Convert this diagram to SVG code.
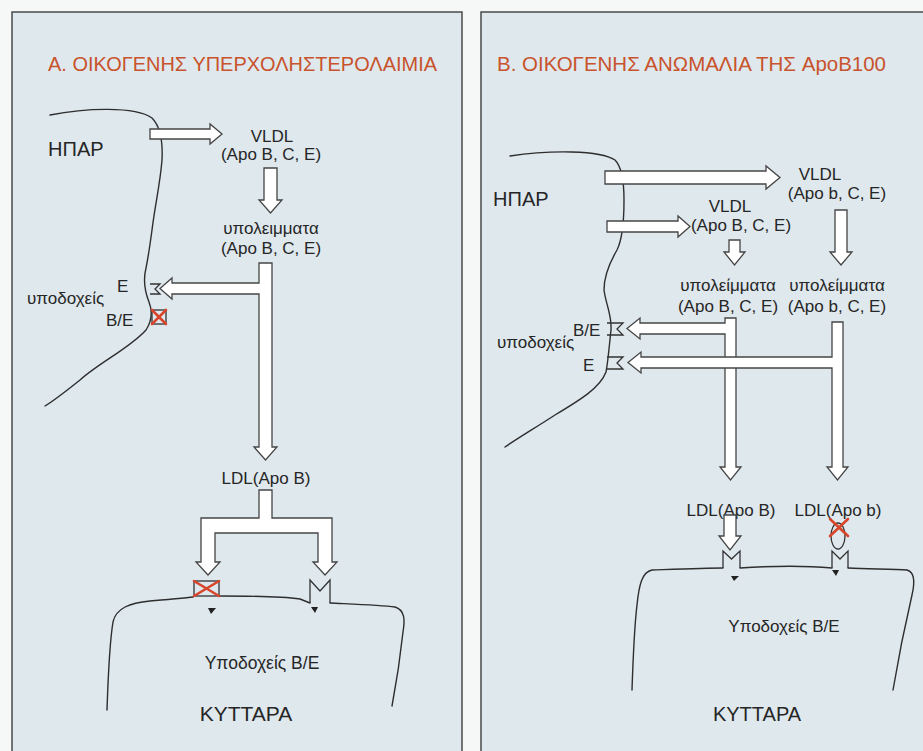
<svg xmlns="http://www.w3.org/2000/svg" width="923" height="751" viewBox="0 0 923 751">
<style>
.panel{fill:#dfe8ed;stroke:#4a4a4a;stroke-width:1.5}
.t{font-family:"Liberation Sans",Arial,sans-serif;fill:#262626;font-size:17px}
.big{font-family:"Liberation Sans",Arial,sans-serif;fill:#262626;font-size:20px}
.title{font-family:"Liberation Sans",Arial,sans-serif;fill:#c8532c;font-size:21px}
.arr{fill:#ffffff;stroke:#454545;stroke-width:1.3;stroke-linejoin:miter}
.line{fill:none;stroke:#2e2e2e;stroke-width:1.4;stroke-linecap:round;stroke-linejoin:round}
.rec{fill:none;stroke:#333;stroke-width:1.3}
.x{stroke:#d8452a;stroke-width:2.6;stroke-linecap:round}
.tri{fill:#222}
</style>
<rect width="923" height="751" fill="#f6f8f8"/>
<rect class="panel" x="12" y="12" width="450" height="760"/>
<rect class="panel" x="481" y="12" width="460" height="760"/>

<!-- ===== Panel A ===== -->
<g id="panelA">
<text class="title" x="48" y="71" textLength="389" lengthAdjust="spacingAndGlyphs">Α. ΟΙΚΟΓΕΝΗΣ ΥΠΕΡΧΟΛΗΣΤΕΡΟΛΑΙΜΙΑ</text>
<g id="A-liver">
<path class="line" d="M50,115 C85,108 135,106 152,118 C160,126 163,140 162,160 C160,185 155,205 152,230 C150,245 148,258 146,268 C143,280 145,292 149,302 C153,312 151,322 146,330 C130,348 100,362 80,380 C65,392 55,400 45,406"/>
<text class="big" x="48" y="156">ΗΠΑΡ</text>
</g>
<g id="A-receptors-liver">
<path class="rec" d="M150,284 H160 L155,289 L160,294 H150"/>
<rect class="rec" x="152" y="310" width="14" height="14"/>
<line class="x" x1="152" y1="310" x2="166" y2="324"/>
<line class="x" x1="166" y1="310" x2="152" y2="324"/>
<text class="t" x="117" y="292">E</text>
<text class="t" x="27" y="304">υποδοχείς</text>
<text class="t" x="106" y="326">B/E</text>
</g>
<g id="A-vldl">
<text class="t" x="272" y="142" text-anchor="middle">VLDL</text>
<text class="t" x="271" y="160" text-anchor="middle">(Apo B, C, E)</text>
</g>
<g id="A-remnants">
<text class="t" x="271" y="234" text-anchor="middle">υπολειμματα</text>
<text class="t" x="271" y="254" text-anchor="middle">(Apo B, C, E)</text>
</g>
<g id="A-ldl">
<text class="t" x="266" y="484" text-anchor="middle">LDL(Apo B)</text>
</g>
<g id="A-cell">
<path class="line" d="M107,710 C108,680 110,640 113,622 C116,608 130,603 150,601 C170,599 185,598 193,597"/>
<path class="line" d="M220,596 C250,596 285,597 300,599 L310,603"/>
<path class="line" d="M330,603 C350,604 380,605 395,607 C405,610 405,620 403,632 C400,660 396,685 392,706"/>
<path class="rec" d="M310,603 V580 L320,591 L330,580 V603"/>
<rect class="rec" x="194" y="581" width="25" height="15"/>
<line class="x" x1="194" y1="581" x2="219" y2="596"/>
<line class="x" x1="219" y1="581" x2="194" y2="596"/>
<path class="tri" d="M208,608 L216,608 L211,614 Z"/>
<path class="tri" d="M311,607 L318,607 L315,613 Z"/>
<text class="t" x="262" y="669" text-anchor="middle" style="font-size:17.5px">Υποδοχείς B/E</text>
<text class="big" x="246" y="721" text-anchor="middle" style="font-size:21px">ΚΥΤΤΑΡΑ</text>
</g>
</g>

<!-- ===== Panel B ===== -->
<g id="panelB">
<text class="title" x="497" y="71" textLength="389" lengthAdjust="spacingAndGlyphs">Β. ΟΙΚΟΓΕΝΗΣ ΑΝΩΜΑΛΙΑ ΤΗΣ ApoB100</text>
<g id="B-liver">
<path class="line" d="M510,156 C550,150 600,150 615,160 C622,167 624,180 624,200 C624,225 622,240 617,250 C610,262 604,275 604,290 C606,305 612,315 611,330 C609,348 608,362 606,372 C600,388 580,400 555,415 C535,428 518,438 505,447"/>
<text class="big" x="493" y="206">ΗΠΑΡ</text>
</g>
<g id="B-receptors-liver">
<path class="rec" d="M607,323 H623 L617,329 L623,335 H607"/>
<path class="rec" d="M607,357 H623 L617,363 L623,369 H607"/>
<text class="t" x="573" y="336">B/E</text>
<text class="t" x="497" y="348">υποδοχείς</text>
<text class="t" x="583" y="371">E</text>
</g>
<g id="B-vldl-b">
<text class="t" x="820" y="180" text-anchor="middle">VLDL</text>
<text class="t" x="837" y="199" text-anchor="middle">(Apo b, C, E)</text>
</g>
<g id="B-vldl-B">
<text class="t" x="730" y="212" text-anchor="middle">VLDL</text>
<text class="t" x="741" y="231" text-anchor="middle">(Apo B, C, E)</text>
</g>
<g id="B-remnants-B">
<text class="t" x="728" y="291" text-anchor="middle">υπολείμματα</text>
<text class="t" x="728" y="312" text-anchor="middle">(Apo B, C, E)</text>
</g>
<g id="B-remnants-b">
<text class="t" x="837" y="291" text-anchor="middle">υπολείμματα</text>
<text class="t" x="837" y="312" text-anchor="middle">(Apo b, C, E)</text>
</g>
<g id="B-ldl">
<text class="t" x="731" y="516" text-anchor="middle">LDL(Apo B)</text>
<text class="t" x="838" y="516" text-anchor="middle">LDL(Apo b)</text>
</g>
<g id="B-cell">
<path class="line" d="M632,690 C633,660 634,630 637,605 C639,585 642,572 652,570 C680,569 705,568 723,568"/>
<path class="line" d="M740,568 C770,566 800,565 832,568"/>
<path class="line" d="M848,568 C870,569 895,569 907,570 C915,572 915,582 912,595 C905,625 898,660 893,690"/>
<path class="rec" d="M723,568 V551 L731.5,559 L740,551 V568"/>
<path class="rec" d="M832,568 V551 L840,559 L848,551 V568"/>
<ellipse class="rec" cx="838" cy="536" rx="7" ry="13"/>
<line class="x" x1="830" y1="519" x2="848" y2="536"/>
<line class="x" x1="848" y1="519" x2="830" y2="536"/>
<path class="tri" d="M731,576 L739,576 L734,581 Z"/>
<path class="tri" d="M832,570 L839,570 L836,576 Z"/>
<text class="t" x="784" y="632" text-anchor="middle">Υποδοχείς B/E</text>
<text class="big" x="757" y="721" text-anchor="middle">ΚΥΤΤΑΡΑ</text>
</g>
</g>

<!-- ===== Connectors ===== -->
<g id="connectors">
<!-- Panel A -->
<path class="arr" d="M150,129 H210 V124 L222,134 L210,144 V139 H150 Z"/>
<path class="arr" d="M264,168 H277 V200 H282 L270.5,213 L259,200 H264 Z"/>
<path class="arr" d="M259,263 H272 V447 H277 L265.5,460 L254,447 H259 V294 H172 V299 L160,288.5 L172,278 V283 H259 Z"/>
<path class="arr" d="M259,490 H272 V518 H332 V562 H337 L325,575 L313,562 H318 V533 H215 V562 H220 L208,575 L196,562 H201 V518 H259 Z"/>
<!-- Panel B -->
<path class="arr" d="M605,171 H766 V166 L780,177.5 L766,189 V184 H605 Z"/>
<path class="arr" d="M607,221 H678 V216 L690,226.5 L678,237 V232 H607 Z"/>
<path class="arr" d="M729,240 H740 V252 H745 L734.5,265 L724,252 H729 Z"/>
<path class="arr" d="M835,210 H847 V252 H852 L841,265 L830,252 H835 Z"/>
<path class="arr" d="M725,318 H736 V467 H741 L730.5,480 L720,467 H725 V334 H640 V339 L627,328.5 L640,318 V323 H725 Z"/>
<path class="arr" d="M832,322 H843 V467 H848 L837.5,480 L827,467 H832 V368 H641 V373 L628,362.5 L641,352 V357 H832 Z"/>
<path class="arr" d="M724,515 H736 V536 H741 L730,550 L719,536 H724 Z"/>
</g>
</svg>
